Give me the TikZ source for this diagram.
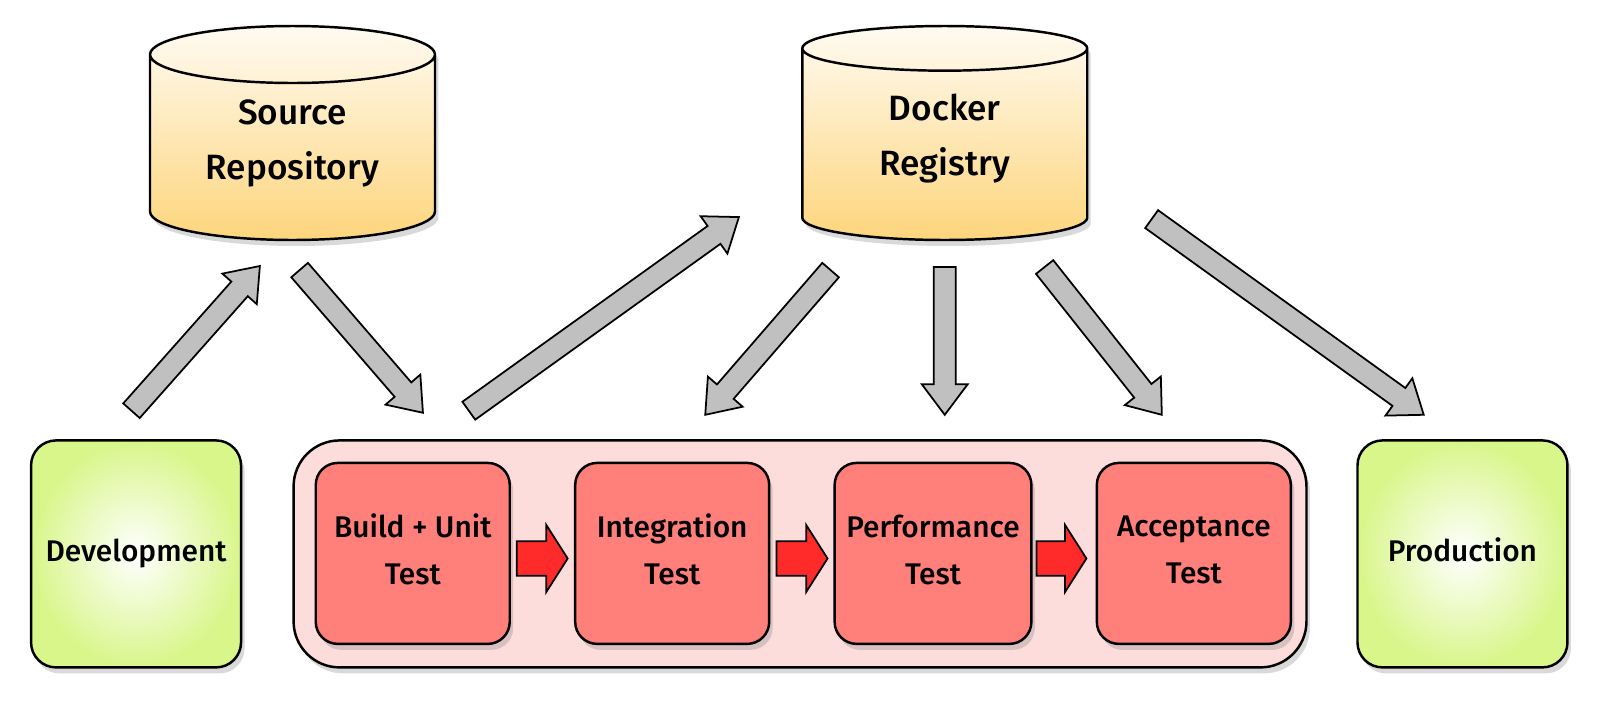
\documentclass[tikz,border=0pt]{standalone}
\usepackage{fontspec}
\setmainfont{Fira Sans Medium}
\usetikzlibrary{positioning,calc,shapes.geometric,shadows}

\definecolor{cyltop}{HTML}{FFFBF2}
\definecolor{cylbot}{HTML}{FDD57C}
\definecolor{envgreen}{HTML}{D8F68A}
\definecolor{pipepink}{HTML}{FDDCDC}
\definecolor{stagered}{HTML}{FF7F7A}
\definecolor{hopred}{HTML}{FF2B2B}
\definecolor{flowgray}{HTML}{C0C0C0}

% block arrow from #2 (tail) to #3 (tip): shaft half width #4, head half width #5, head length #6
\newcommand{\fatarrow}[6]{%
  \coordinate (fa) at ($(#3)!#6!(#2)$);
  \draw[#1] ($(#2)!#4!90:(#3)$) -- ($(fa)!#4!-90:(#2)$) -- ($(fa)!#5!-90:(#2)$)
    -- (#3) -- ($(fa)!#5!90:(#2)$) -- ($(fa)!#4!90:(#2)$) -- ($(#2)!#4!-90:(#3)$) -- cycle;}

\tikzset{
  softshadow/.style={drop shadow={shadow xshift=0.35mm, shadow yshift=-0.6mm, opacity=0.3}},
  store/.style={cylinder, shape border rotate=90, aspect=0.29, draw, line width=0.7pt,
    minimum width=2.85cm, minimum height=2.14cm, top color=cyltop, bottom color=cylbot,
    softshadow, align=center, font=\fontsize{10}{15.5}\selectfont, anchor=shape center,
    text height=23pt, text depth=8.3pt},
  env/.style={draw, line width=0.7pt, rounded corners=2.5mm, minimum width=2.1cm,
    minimum height=2.27cm, inner color=white, outer color=envgreen, softshadow,
    align=center, font=\fontsize{8.5}{13.3}\selectfont, text depth=2.3pt},
  pipe/.style={draw, line width=0.7pt, rounded corners=4.6mm, minimum width=10.13cm,
    minimum height=2.27cm, fill=pipepink, softshadow},
  stage/.style={draw, line width=0.7pt, rounded corners=2.2mm, minimum width=1.94cm,
    minimum height=1.81cm, fill=stagered, softshadow, align=center,
    font=\fontsize{8.5}{13.3}\selectfont, text depth=2.3pt},
  flow/.style={draw, line width=0.5pt, fill=flowgray},
  hop/.style={draw, line width=0.5pt, fill=hopred}
}

\begin{document}
\begin{tikzpicture}[x=0.01019cm, y=-0.01019cm, node distance=0.63cm]
  \useasboundingbox (0,0) rectangle (1568,689);
  % stores
  \node[store] (src) at (287,130.5) {Source\\Repository};
  \node[store] (reg) at (927,130.5) {Docker\\Registry};
  % environments
  \node[env] (dev) at (133.5,543.5) {Development};
  \node[env] (prod) at (1435,543.5) {Production};
  % pipeline
  \node[pipe] (pipe) at (785,543.5) {};
  \node[stage] (build) at (405,543) {Build + Unit\\Test};
  \node[stage, right=of build] (integ) {Integration\\Test};
  \node[stage, right=of integ] (perf) {Performance\\Test};
  \node[stage, right=of perf] (accept) {Acceptance\\Test};
  % arrow ends
  \coordinate (devout) at (129,403);
  \coordinate (srcin) at (255,261);
  \coordinate (srcout) at (294,265);
  \coordinate (ciin) at (415,405);
  \coordinate (ciout) at (460,403);
  \coordinate (regin) at (725,213);
  \coordinate (regit) at (815,265);
  \coordinate (itin) at (692,407);
  \coordinate (regpt) at (927,262);
  \coordinate (ptin) at (927,407);
  \coordinate (regat) at (1025,262);
  \coordinate (atin) at (1140,407);
  \coordinate (regprod) at (1130,215);
  \coordinate (prodin) at (1397,407);
  \coordinate (h1) at (507,548); \coordinate (h2) at (557,548);
  \coordinate (h3) at (762,548); \coordinate (h4) at (812,548);
  \coordinate (h5) at (1017,548); \coordinate (h6) at (1066,548);
  % gray flow arrows
  \fatarrow{flow}{devout}{srcin}{1.1mm}{2.3mm}{3.06mm}
  \fatarrow{flow}{srcout}{ciin}{1.1mm}{2.3mm}{3.06mm}
  \fatarrow{flow}{ciout}{regin}{1.1mm}{2.3mm}{3.06mm}
  \fatarrow{flow}{regit}{itin}{1.1mm}{2.3mm}{3.06mm}
  \fatarrow{flow}{regpt}{ptin}{1.1mm}{2.3mm}{3.06mm}
  \fatarrow{flow}{regat}{atin}{1.1mm}{2.3mm}{3.06mm}
  \fatarrow{flow}{regprod}{prodin}{1.1mm}{2.3mm}{3.06mm}
  % red stage arrows
  \fatarrow{hop}{h1}{h2}{1.73mm}{3.36mm}{2.14mm}
  \fatarrow{hop}{h3}{h4}{1.73mm}{3.36mm}{2.14mm}
  \fatarrow{hop}{h5}{h6}{1.73mm}{3.36mm}{2.14mm}
\end{tikzpicture}
\end{document}
